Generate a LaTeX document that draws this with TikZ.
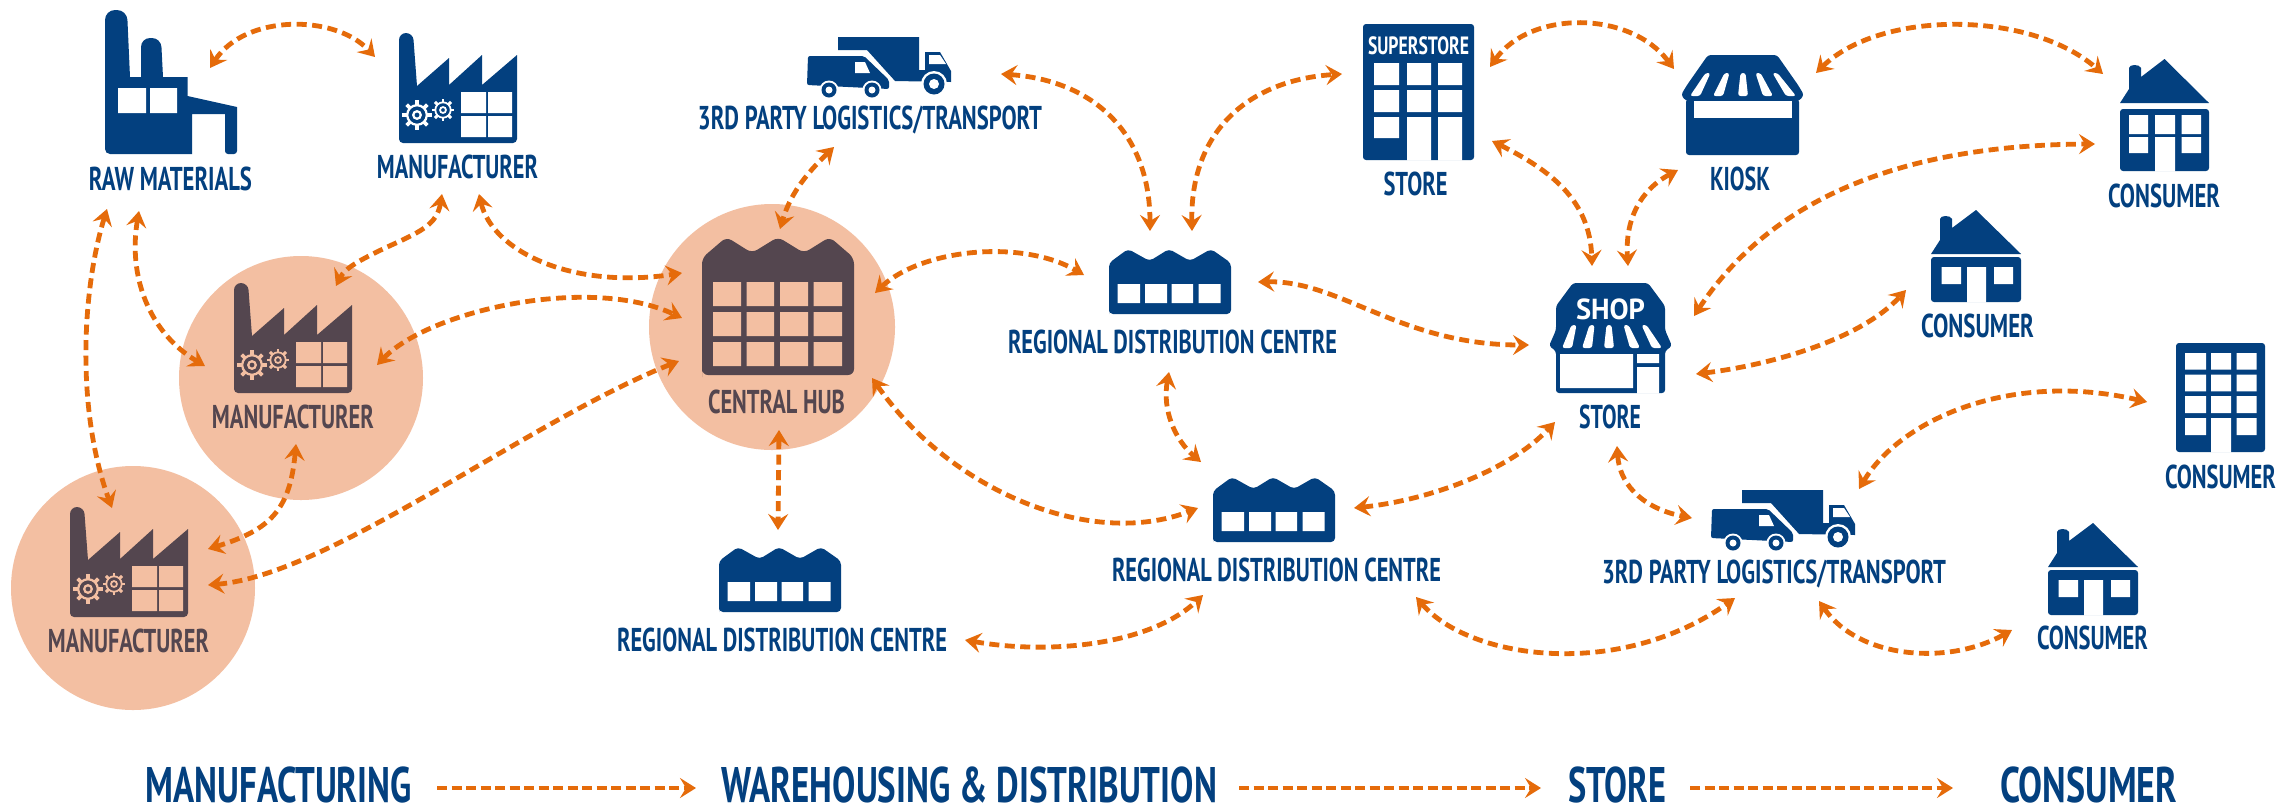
\documentclass[tikz,border=0pt]{standalone}
\usepackage{fontspec}
\usepackage{graphicx}
\usetikzlibrary{arrows.meta}
\newfontfamily\din[FakeStretch=0.8]{PT Sans}
\definecolor{navy}{HTML}{03407F}
\definecolor{dusk}{HTML}{54464F}
\definecolor{peach}{HTML}{F3BFA2}
\definecolor{flowc}{HTML}{E56B0A}
\tikzset{
  x=1pt,y=-1pt,
  flow/.style={draw=flowc,line width=4.8pt,dash pattern=on 10pt off 5.5pt,
    {Stealth[length=16pt,width=20pt,inset=6pt]}-{Stealth[length=16pt,width=20pt,inset=6pt]}},
  oneway/.style={draw=flowc,line width=4.8pt,dash pattern=on 10pt off 4.5pt,
    -{Stealth[length=16pt,width=20pt,inset=6pt]}},
  lab/.style={anchor=base,inner sep=0pt,text=navy,font=\din\bfseries\fontsize{33}{33}\selectfont},
  labd/.style={lab,text=dusk},
  big/.style={anchor=base,inner sep=0pt,text=navy,font=\din\bfseries\fontsize{50}{50}\selectfont},
  hubc/.style={fill=peach,draw=none},
}
\newcommand\lbl[5][lab]{\node[#1] (#2) at (#3) {\resizebox{#4pt}{\height}{#5}};}
% gear: centre, outer radius, colour
\newcommand\gear[3]{%
  \foreach \a in {0,45,...,315}{\draw[#3,line width=.26*#2 pt] (#1) ++(\a:.66*#2) -- ++(\a:.38*#2);}
  \draw[#3,line width=.16*#2 pt] (#1) circle[radius=.7*#2];
  \draw[#3,line width=.16*#2 pt] (#1) circle[radius=.27*#2];}
% awning stripe: top x, bottom x, top y, bottom y
\newcommand\stripe[4]{\fill[white,rounded corners=2.5pt] (#1-2.5,#3) -- (#1+2.5,#3) -- (#2+5,#4) -- (#2-5,#4) -- cycle;}
% small factory: name, origin, fg, bg
\newcommand\smallfactory[4]{\begin{scope}[shift={(#2)}]
  \coordinate (#1) at (59,55);
  \fill[#3] (0,20) [rounded corners=7pt] -- (0,0) -- (14,0) [sharp corners] -- (18,53) -- (50,25) -- (50,52) -- (83,22) -- (83,52) -- (118,22)
     [rounded corners=4pt] -- (118,110) -- (0,110) [sharp corners] -- cycle;
  \fill[#4] (62,59) rectangle (87,80) (89,59) rectangle (113,80) (62,83) rectangle (87,104) (89,83) rectangle (113,104);
  \gear{18,82}{14}{#4}
  \gear{44,77}{11}{#4}
\end{scope}}
% warehouse: name, origin
\newcommand\rdc[2]{\begin{scope}[shift={(#2)}]
  \coordinate (#1) at (61,32);
  \fill[navy,rounded corners=4pt] (0,60) -- (0,13) -- (19,-1) -- (40.6,11) -- (60,-1) -- (81,11) -- (102,-1) -- (122,13) -- (122,64) -- (0,64) -- cycle;
  \fill[white] (8.5,34) rectangle (31,53) (36,34) rectangle (58,53) (62.5,34) rectangle (84,53) (89.5,34) rectangle (111.5,53);
\end{scope}}
% truck: name, origin
\newcommand\truck[2]{\begin{scope}[shift={(#2)}]
  \coordinate (#1) at (72,30);
  \fill[navy] (31,0) -- (112,0) -- (112,33) -- (118,33) -- (118,15) -- (133,15) -- (144,34) -- (144,45) -- (88,44) -- (60,13) -- (31,13) -- cycle;
  \fill[white] (122,18) -- (133,18) -- (139,27) -- (122,27) -- cycle;
  \fill[white] (30,15.5) -- (59,15.5) -- (85.5,42) -- (85.5,56) -- (30,56) -- cycle;
  \fill[navy,rounded corners=2pt] (1,19) -- (57,19) -- (82,43) -- (82,52) -- (0,48) -- cycle;
  \fill[white] (48,25) -- (58,25) -- (63,36) -- (48,36) -- cycle;
  \foreach \p in {22,65}{\fill[white] (\p,53) circle[radius=9.5];\fill[navy] (\p,53) circle[radius=7.5];\fill[white] (\p,53) circle[radius=3.5];}
  \fill[white] (127,47) circle[radius=13];\fill[navy] (127,47) circle[radius=10.5];\fill[white] (127,47) circle[radius=5];
\end{scope}}
% house type A / B
\newcommand\houseroof[1]{\fill[navy] (#1/2,0) -- (#1,44) -- (0,44) -- (9,30) -- (9,9) .. controls (9,5) and (20,5) .. (21,9) -- (21,18) -- cycle;}
\newcommand\housea[2]{\begin{scope}[shift={(#2)}]
  \coordinate (#1) at (44,56);
  \houseroof{89}
  \fill[navy,rounded corners=3pt] (0,50) rectangle (89,112);
  \fill[white] (9,56) rectangle (28,75) (35,56) rectangle (55,75) (61.5,56) rectangle (81,75)
     (9,78) rectangle (28,94) (35,78) rectangle (55,112.5) (61.5,78) rectangle (81,94);
\end{scope}}
\newcommand\houseb[2]{\begin{scope}[shift={(#2)}]
  \coordinate (#1) at (45,46);
  \houseroof{90}
  \fill[navy,rounded corners=3pt] (0,47) rectangle (90,92);
  \fill[white] (10.7,57) rectangle (30,74) (63,57) rectangle (82,74) (36,57) rectangle (55,92.5);
\end{scope}}
\begin{document}
\begin{tikzpicture}
\useasboundingbox (0,0) rectangle (2285,807);
\fill[white] (0,0) rectangle (2285,807);
% highlight discs
\fill[hubc] (772,327) circle[radius=123];
\fill[hubc] (301,378) circle[radius=122];
\fill[hubc] (133,588) circle[radius=122];
% ---- icons
\begin{scope}[shift={(105,10)}]
  \coordinate (rawicon) at (66,72);
  \fill[navy] (0,40) [rounded corners=10pt] -- (0,0) -- (22,0) [sharp corners] -- (25,67) -- (36,67) [rounded corners=9pt] -- (36,28) -- (56,28) [sharp corners] -- (58,67) -- (82.5,67) -- (82.5,86) -- (132,97) [rounded corners=3pt] -- (132,144) -- (120,144) [sharp corners] -- (120,104) -- (87,104) -- (87,144) [rounded corners=5pt] -- (0,144) [sharp corners] -- cycle;
  \fill[white] (13,78) rectangle (41,103) (45,78) rectangle (72,103);
\end{scope}
\smallfactory{manua}{399,33}{navy}{white}
\smallfactory{manub}{234,283}{dusk}{peach}
\smallfactory{manuc}{70,507}{dusk}{peach}
\truck{trucka}{807,37}
\truck{truckb}{1711,490}
\rdc{rdca}{1109,250}
\rdc{rdcb}{1213,478}
\rdc{rdcc}{719,548}
% central hub
\begin{scope}[shift={(702,239)}]
  \coordinate (hubicon) at (76,68);
  \fill[dusk,rounded corners=6pt] (0,132) -- (0,19) -- (24.5,-2) -- (50,14) -- (76,-2) -- (102,14) -- (127.7,-2) -- (152,19) -- (152,136) -- (0,136) -- cycle;
  \foreach \y/\yy in {43/67,73/97,103/127}{
    \fill[peach] (11,\y) rectangle (39,\yy) (44.6,\y) rectangle (72,\yy) (78,\y) rectangle (106,\yy) (111.6,\y) rectangle (140,\yy);}
\end{scope}
% superstore
\begin{scope}[shift={(1363,24)}]
  \coordinate (superstore) at (55,68);
  \fill[navy,rounded corners=3pt] (0,0) rectangle (111,136);
  \fill[white] (11,39) rectangle (36,61) (44,39) rectangle (68,61) (75,39) rectangle (99,61)
    (11,66) rectangle (36,88) (44,66) rectangle (68,88) (75,66) rectangle (99,88)
    (11,93) rectangle (36,114) (44,93) rectangle (68,136.5) (75,93) rectangle (99,136.5);
  \node[anchor=base,inner sep=0pt,text=white,font=\din\bfseries\fontsize{25}{25}\selectfont] (superlabel) at (55.5,30) {\resizebox{101pt}{\height}{SUPERSTORE}};
\end{scope}
% kiosk
\begin{scope}[shift={(1681,55)}]
  \coordinate (kioskicon) at (61,50);
  \fill[navy,rounded corners=3pt] (5,44) rectangle (118,100);
  \fill[navy,rounded corners=3pt] (27,0) -- (96,0) -- (117,30) -- (123,40) -- (118,46) -- (5,46) -- (0,40) -- (6,30) -- cycle;
  \fill[white] (12.5,46) rectangle (110.5,63);
  \stripe{27}{14}{18}{41}
  \stripe{46}{37}{18}{41}
  \stripe{62}{62}{18}{41}
  \stripe{77}{87}{18}{41}
  \stripe{94}{110}{18}{41}
\end{scope}
% shop
\begin{scope}[shift={(1549,283)}]
  \coordinate (shopicon) at (61,55);
  \fill[navy,rounded corners=3pt] (24,0) -- (99,0) -- (116,23) -- (116,47) -- (123,63) -- (116,68) -- (116,110) -- (7,110) -- (7,68) -- (0,63) -- (7,47) -- (7,23) -- cycle;
  \fill[white] (11,71) rectangle (84,105) (88,71) rectangle (110,80) (88,84) rectangle (110,110.5);
  \stripe{25}{18}{42}{65}
  \stripe{43}{38}{42}{65}
  \stripe{60}{60}{42}{65}
  \stripe{77}{86}{42}{65}
  \stripe{95}{108}{42}{65}
  \node[anchor=base,inner sep=0pt,text=white,font=\din\bfseries\fontsize{29}{29}\selectfont] (shoptext) at (61.5,36) {\resizebox{69pt}{\height}{SHOP}};
\end{scope}
\housea{housea}{2120,59}
\houseb{houseb}{1931,210}
\houseb{housec}{2048,523}
% apartment block
\begin{scope}[shift={(2176,343)}]
  \coordinate (block) at (44,54);
  \fill[navy,rounded corners=3pt] (0,0) rectangle (89,109);
  \foreach \y/\yy in {10/26.7,31.7/48.3,53/70}{
    \fill[white] (9,\y) rectangle (30,\yy) (35,\y) rectangle (55,\yy) (60.5,\y) rectangle (80.5,\yy);}
  \fill[white] (9,75) rectangle (30,92) (35,75) rectangle (55,109.5) (60.5,75) rectangle (80.5,92);
\end{scope}
% ---- labels
\lbl{lraw}{170.5,190}{163}{RAW MATERIALS}
\lbl{lmanua}{457.5,178}{161}{MANUFACTURER}
\lbl[labd]{lmanub}{293,428}{162}{MANUFACTURER}
\lbl[labd]{lmanuc}{128.5,652}{161}{MANUFACTURER}
\lbl[labd]{lhub}{776.5,413}{137}{CENTRAL HUB}
\lbl{lrdca}{1172.5,353}{329}{REGIONAL DISTRIBUTION CENTRE}
\lbl{lrdcb}{1276.5,581}{329}{REGIONAL DISTRIBUTION CENTRE}
\lbl{lrdcc}{782,651}{330}{REGIONAL DISTRIBUTION CENTRE}
\lbl{ltra}{870,129}{344}{3RD PARTY LOGISTICS/TRANSPORT}
\lbl{ltrb}{1774,583}{344}{3RD PARTY LOGISTICS/TRANSPORT}
\lbl{lstorea}{1415.5,195}{64}{STORE}
\lbl{lkiosk}{1740,190}{60}{KIOSK}
\lbl{lcona}{2164,207}{112}{CONSUMER}
\lbl{lconb}{1977.5,337}{113}{CONSUMER}
\lbl{lstoreb}{1610,428}{62}{STORE}
\lbl{lconc}{2220.5,488}{111}{CONSUMER}
\lbl{lcond}{2092.5,649}{111}{CONSUMER}
\lbl[big]{tma}{279,802}{266}{MANUFACTURING}
\lbl[big]{twa}{969,802}{496}{WAREHOUSING \& DISTRIBUTION}
\lbl[big]{tst}{1617,802}{98}{STORE}
\lbl[big]{tco}{2088.5,802}{177}{CONSUMER}
% ---- connector ends
\coordinate (a1) at (210,68); \coordinate (b1) at (375,57);
\coordinate (a2) at (107,209); \coordinate (b2) at (112,508);
\coordinate (a3) at (139,211); \coordinate (b3) at (205,366);
\coordinate (a4) at (442,194); \coordinate (m4) at (385,248); \coordinate (b4) at (336,286);
\coordinate (a5) at (479,194); \coordinate (b5) at (682,273);
\coordinate (a6) at (377,365); \coordinate (b6) at (682,318);
\coordinate (a7) at (208,585); \coordinate (b7) at (679,361);
\coordinate (a8) at (296,444); \coordinate (b8) at (208,549);
\coordinate (a9) at (834,147); \coordinate (b9) at (780,229);
\coordinate (a10) at (1001,74); \coordinate (b10) at (1150,231);
\coordinate (a11) at (1192,231); \coordinate (b11) at (1342,74);
\coordinate (a12) at (875,293); \coordinate (b12) at (1084,275);
\coordinate (a13) at (872,378); \coordinate (b13) at (1198,508);
\coordinate (a14) at (779,430); \coordinate (b14) at (778,530);
\coordinate (a15) at (1169,372); \coordinate (b15) at (1201,462);
\coordinate (a16) at (1258,282); \coordinate (b16) at (1529,345);
\coordinate (a17) at (1354,508); \coordinate (b17) at (1555,422);
\coordinate (a18) at (965,640); \coordinate (b18) at (1203,595);
\coordinate (a19) at (1416,597); \coordinate (b19) at (1735,598);
\coordinate (a20) at (1617,446); \coordinate (b20) at (1692,518);
\coordinate (a21) at (1859,489); \coordinate (b21) at (2147,402);
\coordinate (a22) at (1819,601); \coordinate (b22) at (2012,630);
\coordinate (a23) at (1490,67); \coordinate (b23) at (1674,69);
\coordinate (a24) at (1816,73); \coordinate (b24) at (2103,74);
\coordinate (a25) at (1492,141); \coordinate (b25) at (1592,266);
\coordinate (a26) at (1678,170); \coordinate (b26) at (1628,266);
\coordinate (a27) at (1694,316); \coordinate (b27) at (2095,144);
\coordinate (a28) at (1696,374); \coordinate (b28) at (1906,290);
% ---- connectors
\draw[flow] (a1) .. controls (245,14) and (335,14) .. (b1);
\draw[flow] (a2) .. controls (82,290) and (76,410) .. (b2);
\draw[flow] (a3) .. controls (128,275) and (148,332) .. (b3);
\draw[flow] (a4) .. controls (437,225) and (420,232) .. (m4) .. controls (360,260) and (345,268) .. (b4);
\draw[flow] (a5) .. controls (492,250) and (570,290) .. (b5);
\draw[flow] (a6) .. controls (430,310) and (590,275) .. (b6);
\draw[flow] (a7) .. controls (330,575) and (530,420) .. (b7);
\draw[flow] (a8) .. controls (290,510) and (270,530) .. (b8);
\draw[flow] (a9) .. controls (805,175) and (790,195) .. (b9);
\draw[flow] (a10) .. controls (1090,80) and (1150,130) .. (b10);
\draw[flow] (a11) .. controls (1190,130) and (1250,80) .. (b11);
\draw[flow] (a12) .. controls (920,250) and (1020,238) .. (b12);
\draw[flow] (a13) .. controls (950,490) and (1090,550) .. (b13);
\draw[flow] (a14) -- (b14);
\draw[flow] (a15) .. controls (1162,410) and (1175,440) .. (b15);
\draw[flow] (a16) .. controls (1340,280) and (1400,345) .. (b16);
\draw[flow] (a17) .. controls (1430,500) and (1510,470) .. (b17);
\draw[flow] (a18) .. controls (1050,655) and (1150,645) .. (b18);
\draw[flow] (a19) .. controls (1470,660) and (1620,680) .. (b19);
\draw[flow] (a20) .. controls (1620,490) and (1650,510) .. (b20);
\draw[flow] (a21) .. controls (1900,420) and (2010,370) .. (b21);
\draw[flow] (a22) .. controls (1860,660) and (1950,665) .. (b22);
\draw[flow] (a23) .. controls (1530,10) and (1630,10) .. (b23);
\draw[flow] (a24) .. controls (1880,10) and (2030,10) .. (b24);
\draw[flow] (a25) .. controls (1550,170) and (1590,200) .. (b25);
\draw[flow] (a26) .. controls (1640,190) and (1625,220) .. (b26);
\draw[flow] (a27) .. controls (1770,200) and (1900,145) .. (b27);
\draw[flow] (a28) .. controls (1770,365) and (1860,340) .. (b28);
% ---- legend
\coordinate (ga) at (437,788); \coordinate (gb) at (696,788);
\coordinate (gc) at (1239,788); \coordinate (gd) at (1541,788);
\coordinate (ge) at (1690,788); \coordinate (gf) at (1953,788);
\draw[oneway] (ga) -- (gb);
\draw[oneway] (gc) -- (gd);
\draw[oneway] (ge) -- (gf);
\end{tikzpicture}
\end{document}
